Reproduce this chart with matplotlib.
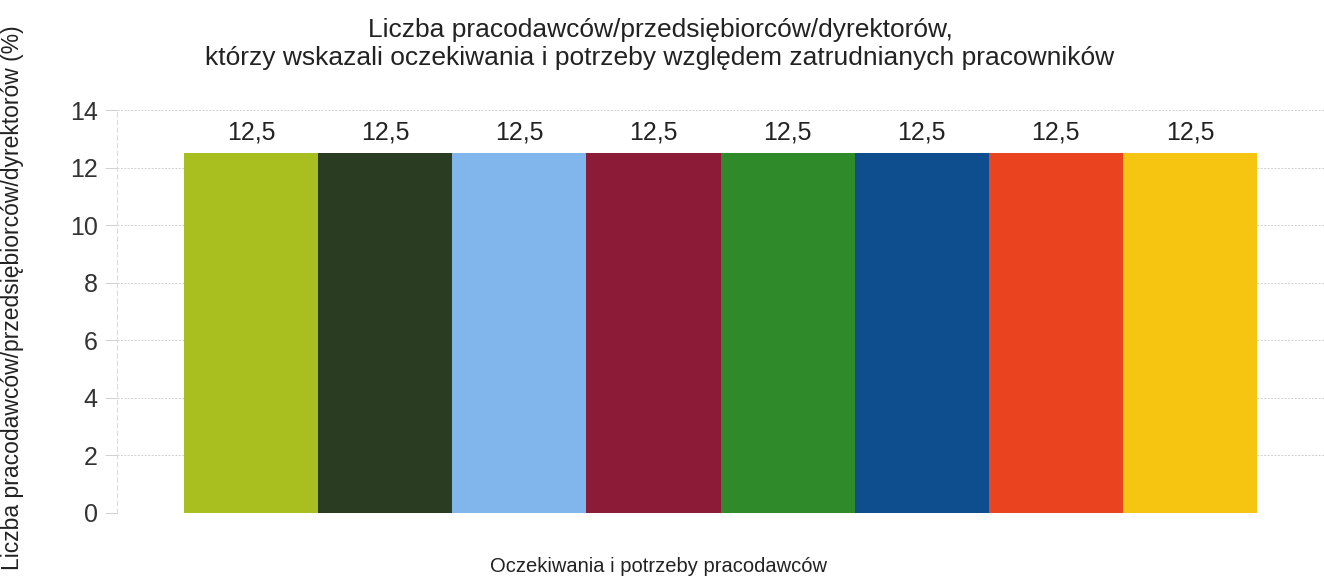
import matplotlib
matplotlib.use("Agg")
import matplotlib.pyplot as plt

plt.rcParams["font.family"] = ["Liberation Sans", "DejaVu Sans"]

# one bar per employer expectation, all equal shares
categories = ["A", "B", "C", "D", "E", "F", "G", "H"]
shares = [12.5, 12.5, 12.5, 12.5, 12.5, 12.5, 12.5, 12.5]
bar_colors = ["#a9bf1f", "#2a3d22", "#80b6ec", "#8c1b38",
              "#2f8b29", "#0f4e8e", "#e9441f", "#f6c512"]
value_labels = ["12,5"] * len(shares)
y_ticks = [0, 2, 4, 6, 8, 10, 12, 14]

W, H = 1324, 579
fig = plt.figure(figsize=(W / 100, H / 100), dpi=100)
ax = fig.add_axes([117 / W, 66 / H, (W - 117) / W, (513 - 110) / H])

x = list(range(len(categories)))
ax.bar(x, shares, width=1.0, color=bar_colors, zorder=2)
for xi, v, lab in zip(x, shares, value_labels):
    ax.text(xi, v + 0.3, lab, ha="center", va="bottom", fontsize=18, color="#222222")

ax.set_xlim(-1, 8)
ax.set_ylim(0, 14)
ax.set_yticks(y_ticks)
ax.set_xticks([])
ax.tick_params(axis="y", length=9, width=0.7, color="#d0d0d0", pad=5,
               labelsize=18, labelcolor="#333333")
ax.grid(axis="y", color="#d0d0d0", linewidth=0.7, linestyle=(0, (2, 1.5)), zorder=0)
for side in ["top", "right", "bottom"]:
    ax.spines[side].set_visible(False)
ax.spines["left"].set_color("#dcdcdc")
ax.spines["left"].set_linestyle((0, (4, 3)))
ax.spines["left"].set_linewidth(0.8)

fig.text(660 / W, 1 - 44 / H,
         "Liczba pracodawców/przedsiębiorców/dyrektorów,\n"
         "którzy wskazali oczekiwania i potrzeby względem zatrudnianych pracowników",
         ha="center", va="center", fontsize=19, color="#222222", linespacing=1.2)
fig.text(659 / W, 1 - 566 / H, "Oczekiwania i potrzeby pracodawców",
         ha="center", va="center", fontsize=14.5, color="#222222")
fig.text(13 / W, 1 - 298 / H, "Liczba pracodawców/przedsiębiorców/dyrektorów (%)",
         ha="center", va="center", rotation=90, fontsize=16.5, color="#222222")

fig.savefig("out.png", dpi=100)
